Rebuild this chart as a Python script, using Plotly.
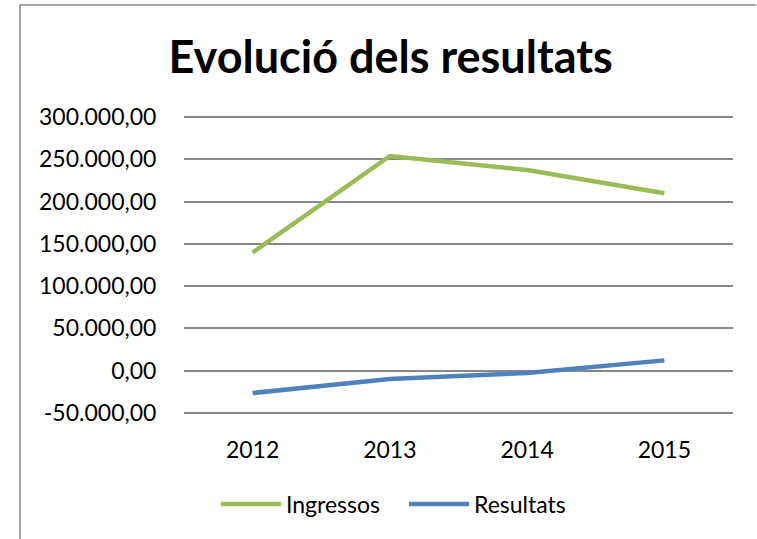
import plotly.graph_objects as go

years = ["2012", "2013", "2014", "2015"]
ingressos = [139700, 253900, 237400, 209900]
resultats = [-26400, -9800, -2700, 12200]
y_tick_vals = [-50000, 0, 50000, 100000, 150000, 200000, 250000, 300000]
y_tick_text = ["-50.000,00", "0,00", "50.000,00", "100.000,00", "150.000,00",
               "200.000,00", "250.000,00", "300.000,00"]

W, H = 757, 539
L, R, T, B = 184, 24, 115, 124
FONT = "Lato"
FS = 23

fig = go.Figure()
fig.add_trace(go.Scatter(x=years, y=ingressos, name="Ingressos", mode="lines",
                         line=dict(color="#9BBB59", width=4.5)))
fig.add_trace(go.Scatter(x=years, y=resultats, name="Resultats", mode="lines",
                         line=dict(color="#4F81BD", width=4.5)))

pw = W - L - R
ph = H - T - B
def px(x):
    return (x - L) / pw
def py(y):
    return (H - B - y) / ph

fig.add_shape(type="path", xref="paper", yref="paper",
              path=f"M {px(20)},{py(540)} L {px(20)},{py(5)} L {px(756)},{py(5)}",
              line=dict(color="#8a8a8a", width=1.5))

fig.update_layout(
    width=W, height=H,
    margin=dict(l=L, r=R, t=T, b=B),
    paper_bgcolor="white", plot_bgcolor="white",
    font=dict(family=FONT, color="black", size=FS),
    title=dict(text="<b>Evolució dels resultats</b>", x=0.516, xanchor="center",
               y=1 - 57 / H, yanchor="middle",
               font=dict(family=FONT, size=45, color="black")),
    showlegend=True,
    legend=dict(orientation="h", x=px(223 - 7), xanchor="left", y=py(504), yanchor="middle",
                font=dict(family=FONT, size=FS), itemwidth=60, entrywidth=113),
    xaxis=dict(type="category", range=[-0.5, 3.5], showgrid=False, showline=False,
               zeroline=False, ticks="outside", ticklen=14, tickcolor="rgba(0,0,0,0)",
               tickfont=dict(family=FONT, size=FS)),
    yaxis=dict(range=[-52400, 302400], tickvals=y_tick_vals, ticktext=y_tick_text,
               showgrid=True, gridcolor="#888888", gridwidth=1.5,
               zeroline=False, showline=False,
               ticks="outside", ticklen=22, tickcolor="rgba(0,0,0,0)",
               tickfont=dict(family=FONT, size=FS)),
)

fig.write_html("out.html", config={"displayModeBar": False},
               post_script="document.body.style.margin='0';")
